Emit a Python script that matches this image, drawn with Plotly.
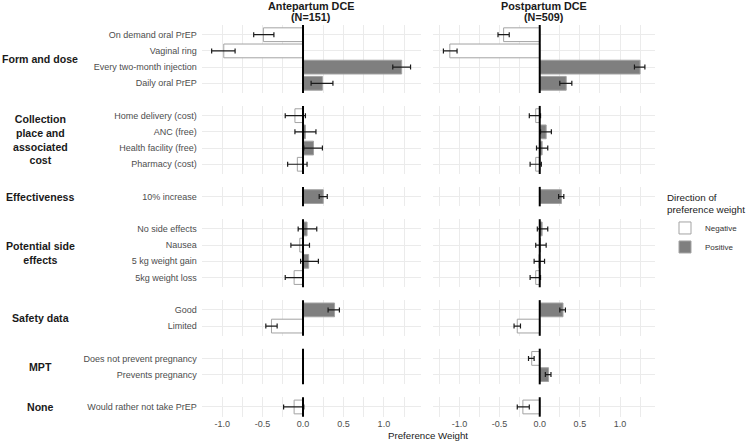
import plotly.graph_objects as go

# ---------------- data ----------------
groups = ["Form and dose", "Collection place and associated cost", "Effectiveness",
          "Potential side effects", "Safety data", "MPT", "None"]
group_labels = ["Form and dose", "Collection<br>place and<br>associated<br>cost", "Effectiveness",
                "Potential side<br>effects", "Safety data", "MPT", "None"]

attr_group = ["Form and dose"] * 4 + ["Collection place and associated cost"] * 4 + ["Effectiveness"] + \
             ["Potential side effects"] * 4 + ["Safety data"] * 2 + ["MPT"] * 2 + ["None"]
attr_level = ["On demand oral PrEP", "Vaginal ring", "Every two-month injection", "Daily oral PrEP",
              "Home delivery (cost)", "ANC (free)", "Health facility (free)", "Pharmacy (cost)",
              "10% increase",
              "No side effects", "Nausea", "5 kg weight gain", "5kg weight loss",
              "Good", "Limited",
              "Does not prevent pregnancy", "Prevents pregnancy",
              "Would rather not take PrEP"]

ante_weight = [-0.49, -0.98, 1.22, 0.24, -0.10, 0.03, 0.13, -0.07, 0.25,
               0.05, -0.04, 0.07, -0.11, 0.39, -0.39, None, None, -0.11]
ante_lower = [-0.61, -1.13, 1.11, 0.10, -0.22, -0.10, 0.01, -0.19, 0.20,
              -0.06, -0.15, -0.03, -0.22, 0.31, -0.46, None, None, -0.24]
ante_upper = [-0.36, -0.84, 1.33, 0.37, 0.03, 0.16, 0.24, 0.05, 0.30,
              0.17, 0.08, 0.19, 0.00, 0.45, -0.32, None, None, 0.01]

post_weight = [-0.45, -1.12, 1.25, 0.33, -0.05, 0.08, 0.03, -0.05, 0.27,
               0.03, 0.01, -0.01, -0.05, 0.29, -0.28, -0.10, 0.11, -0.21]
post_lower = [-0.52, -1.20, 1.18, 0.25, -0.13, 0.01, -0.04, -0.12, 0.235,
              -0.03, -0.05, -0.07, -0.12, 0.25, -0.32, -0.14, 0.07, -0.28]
post_upper = [-0.38, -1.03, 1.31, 0.40, 0.01, 0.145, 0.10, 0.02, 0.30,
              0.10, 0.08, 0.06, 0.01, 0.32, -0.24, -0.07, 0.14, -0.13]

study_names = ["Antepartum DCE", "Postpartum DCE"]
study_n = ["(N=151)", "(N=509)"]
study_data = [(ante_weight, ante_lower, ante_upper), (post_weight, post_lower, post_upper)]

x_tickvals = [-1.0, -0.5, 0.0, 0.5, 1.0]
x_ticktext = ["-1.0", "-0.5", "0.0", "0.5", "1.0"]

# ---------------- style / layout ----------------
W, H = 750, 442
FONT = "Liberation Sans, Arial, sans-serif"
GRID = "#ebebeb"
NEG_FILL, POS_FILL, BORDER = "#ffffff", "#7f7f7f", "#a3a3a3"
x_ranges = [[-1.253, 1.453], [-1.326, 1.436]]
col_px = [(201.7, 420.5), (433.3, 655.0)]
unit, gap, top0 = 16.2, 12.9, 25.0

fig = go.Figure()
layout = dict(
    width=W, height=H, margin=dict(l=0, r=0, t=0, b=0),
    paper_bgcolor="white", plot_bgcolor="white",
    barmode="overlay", font=dict(family=FONT, color="#1a1a1a"),
    shapes=[], annotations=[],
    legend=dict(
        title=dict(text="Direction of<br>preference weight", font=dict(size=9.8, color="#1a1a1a")),
        font=dict(size=8, color="#333333"),
        x=665 / W, xanchor="left", y=1 - 188 / H, yanchor="top",
        bgcolor="rgba(0,0,0,0)", tracegroupgap=0, traceorder="normal",
    ),
)

shown = {"Negative": False, "Positive": False}
y_cursor = top0
for r, g in enumerate(groups):
    idxs = [i for i, gg in enumerate(attr_group) if gg == g]
    cats = [attr_level[i] for i in idxs]
    n = len(cats)
    ph = (n + 0.2) * unit
    ytop, ybot = y_cursor, y_cursor + ph
    y_cursor = ybot + gap
    ydom = [1 - ybot / H, 1 - ytop / H]

    layout["annotations"].append(dict(
        text="<b>%s</b>" % group_labels[r], x=40 / W, y=(ydom[0] + ydom[1]) / 2,
        xref="paper", yref="paper", xanchor="center", yanchor="middle", align="center",
        showarrow=False, font=dict(size=10.6, color="#1a1a1a")))

    for c in range(2):
        k = r * 2 + c + 1
        sfx = "" if k == 1 else str(k)
        xa, ya = "x" + sfx, "y" + sfx
        wts, los, his = study_data[c]
        for sign, fill in (("Negative", NEG_FILL), ("Positive", POS_FILL)):
            sel = [i for i in idxs if (wts[i] is None and sign == "Negative") or
                   (wts[i] is not None and ((wts[i] < 0) == (sign == "Negative")))]
            if not sel:
                continue
            xs = [wts[i] for i in sel]
            ys = [attr_level[i] for i in sel]
            plus = [None if wts[i] is None else his[i] - wts[i] for i in sel]
            minus = [None if wts[i] is None else wts[i] - los[i] for i in sel]
            fig.add_trace(go.Bar(
                x=xs, y=ys, orientation="h", width=0.85,
                marker=dict(color=fill, line=dict(color=BORDER, width=1)),
                error_x=dict(type="data", symmetric=False, array=plus, arrayminus=minus,
                             color="#1a1a1a", thickness=1.2, width=2.5),
                name=sign, legendgroup=sign, showlegend=not shown[sign],
                xaxis=xa, yaxis=ya, hoverinfo="x+y"))
            shown[sign] = True

        x0p, x1p = col_px[c]
        layout["xaxis" + sfx] = dict(
            domain=[x0p / W, x1p / W], anchor=ya, range=x_ranges[c],
            tickvals=x_tickvals, ticktext=x_ticktext,
            showticklabels=(r == len(groups) - 1),
            tickfont=dict(size=9, color="#4d4d4d"), ticks="",
            showgrid=True, gridcolor=GRID, gridwidth=1, zeroline=False,
            minor=dict(tickvals=[-1.25, -0.75, -0.25, 0.25, 0.75, 1.25], showgrid=True,
                       gridcolor=GRID, gridwidth=1),
            showline=False, fixedrange=True)
        layout["yaxis" + sfx] = dict(
            domain=ydom, anchor=xa, type="category",
            categoryorder="array", categoryarray=cats,
            range=[n - 1 + 0.6, -0.6],
            showticklabels=(c == 0), tickfont=dict(size=9, color="#4d4d4d"),
            ticks="", ticklabelstandoff=4,
            showgrid=True, gridcolor=GRID, gridwidth=1, zeroline=False,
            showline=False, fixedrange=True)
        layout["shapes"].append(dict(
            type="line", xref=xa, yref="%s domain" % ya, x0=0, x1=0, y0=0, y1=1,
            line=dict(color="black", width=2), layer="above"))

for c in range(2):
    x0p, x1p = col_px[c]
    for line_text, ypx in ((study_names[c], 6.5), (study_n[c], 17.5)):
        layout["annotations"].append(dict(
            text="<b>%s</b>" % line_text, x=(x0p + x1p) / 2 / W, y=1 - ypx / H,
            xref="paper", yref="paper", xanchor="center", yanchor="middle",
            showarrow=False, font=dict(size=10.8, color="#1a1a1a")))

layout["annotations"].append(dict(
    text="Preference Weight", x=(col_px[0][0] + col_px[1][1]) / 2 / W, y=1 - 435 / H,
    xref="paper", yref="paper", xanchor="center", yanchor="middle",
    showarrow=False, font=dict(size=9.7, color="#1a1a1a")))

fig.update_layout(**layout)
fig.write_html("out.html")
